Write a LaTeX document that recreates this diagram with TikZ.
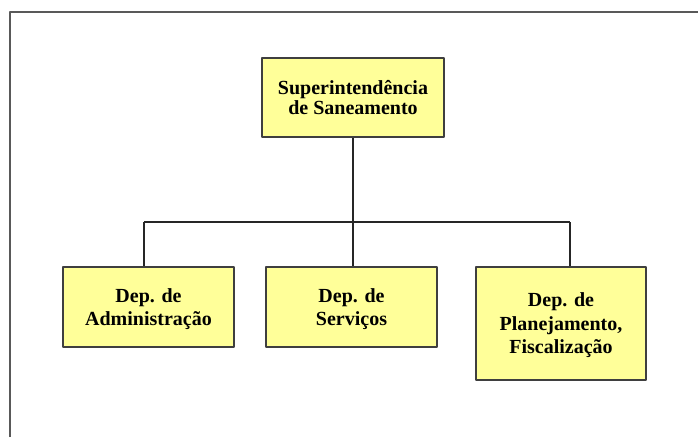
\documentclass[tikz,border=0pt]{standalone}
\usepackage{fontspec}
\setmainfont{Liberation Serif}
\usepackage{xcolor}
\usetikzlibrary{calc}
\definecolor{boxfill}{HTML}{FFFF99}
\definecolor{boxline}{HTML}{3F3F3F}

\begin{document}
\begin{tikzpicture}[x=1pt,y=-1pt,line join=round,
  orgbox/.style={draw=boxline,line width=1.4pt,fill=boxfill,align=center,
    inner sep=0pt,text depth=0pt,font=\fontsize{20}{23.5}\selectfont\bfseries},
  link/.style={line width=1.2pt,black!85}]
  \useasboundingbox (0,0) rectangle (698,437);
  % frame
  \draw[line width=1.6pt,black!65] (10,437) -- (10,12) -- (698,12);
  % boxes
  \node[orgbox,minimum width=182,minimum height=79,font=\fontsize{20}{20.5}\selectfont\bfseries] (sup) at (353,97.5) {Superintendência\\de Saneamento};
  \node[orgbox,minimum width=171,minimum height=80] (adm) at (148.5,307) {Dep. de\\Administração};
  \node[orgbox,minimum width=171,minimum height=80] (serv) at (351.5,307) {Dep. de\\Serviços};
  \node[orgbox,minimum width=170,minimum height=113] (plan) at (561,323.5) {Dep. de\\Planejamento,\\Fiscalização};
  % connectors
  \coordinate (barL) at (144,222);
  \coordinate (barR) at (570,222);
  \draw[link] (sup.south) -- (sup.south |- barL);
  \draw[link] (barL) -- (barR);
  \draw[link] (barL) -- (barL |- adm.north);
  \draw[link] (sup.south |- barL) -- (serv.north -| sup.south);
  \draw[link] (barR) -- (barR |- plan.north);
\end{tikzpicture}
\end{document}
